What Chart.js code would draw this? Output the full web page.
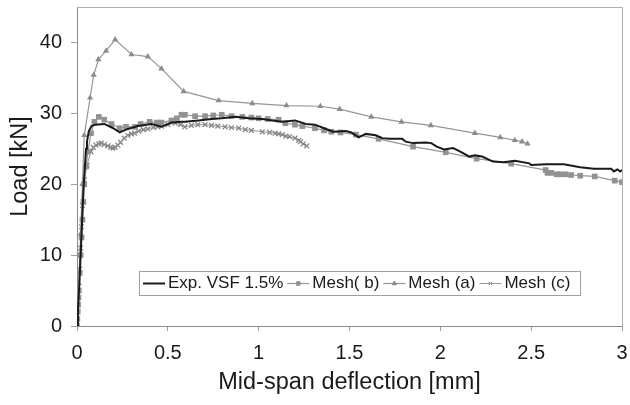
<!DOCTYPE html>
<html>
<head>
<meta charset="utf-8">
<script src="https://cdn.jsdelivr.net/npm/chart.js@4/dist/chart.umd.min.js"></script>
<style>
  html, body { margin: 0; padding: 0; background: #fff; }
  #chart1 { display: block; }
</style>
</head>
<body>
<canvas id="chart1" width="630" height="405"></canvas>
<script>
// data ---------------------------------------------------------------------
const seriesLabels = ['Exp. VSF 1.5%', 'Mesh( b)', 'Mesh (a)', 'Mesh (c)'];

const expX = [0, 0.005, 0.01, 0.015, 0.02, 0.025, 0.03, 0.035, 0.042, 0.05, 0.055, 0.065, 0.08, 0.1, 0.15, 0.2, 0.235, 0.28, 0.335, 0.41, 0.465, 0.52, 0.575, 0.594, 0.668, 0.742, 0.797, 0.87, 0.945, 1.02, 1.074, 1.13, 1.2, 1.26, 1.31, 1.36, 1.41, 1.48, 1.51, 1.55, 1.59, 1.645, 1.68, 1.72, 1.79, 1.81, 1.85, 1.92, 1.95, 1.98, 2.02, 2.07, 2.11, 2.16, 2.19, 2.23, 2.29, 2.35, 2.41, 2.49, 2.5, 2.585, 2.68, 2.77, 2.845, 2.94, 2.955, 2.975, 2.99, 3.0];
const expY = [0, 2, 4.5, 7, 10, 13, 16, 19, 22, 25, 26, 27.5, 28.2, 28.4, 28.5, 27.9, 27.3, 27.8, 28.2, 28.5, 28.1, 28.7, 28.8, 28.8, 29.0, 29.2, 29.3, 29.5, 29.3, 29.2, 29.0, 28.8, 29.0, 28.5, 28.4, 27.9, 27.4, 27.5, 27.3, 26.6, 27.1, 26.9, 26.5, 26.4, 26.4, 26.0, 25.8, 25.9, 25.8, 25.3, 24.9, 25.1, 24.6, 23.9, 24.1, 23.9, 23.2, 23.1, 23.3, 22.95, 22.7, 22.8, 22.8, 22.4, 22.2, 22.2, 21.8, 22.1, 21.8, 22.0];

const meshBX = [0, 0.002, 0.004, 0.006, 0.008, 0.01, 0.015, 0.02, 0.025, 0.03, 0.035, 0.04, 0.05, 0.06, 0.077, 0.096, 0.12, 0.15, 0.19, 0.235, 0.27, 0.32, 0.35, 0.4, 0.44, 0.465, 0.52, 0.55, 0.575, 0.594, 0.65, 0.705, 0.75, 0.797, 0.85, 0.91, 0.96, 1.0, 1.05, 1.11, 1.147, 1.2, 1.24, 1.31, 1.36, 1.4, 1.45, 1.535, 1.66, 1.85, 2.03, 2.2, 2.39, 2.58, 2.59, 2.61, 2.64, 2.66, 2.69, 2.72, 2.77, 2.85, 2.96, 3.0];
const meshBY = [0, 1, 2, 3, 4, 5, 7.5, 10, 12.5, 15, 17.5, 20, 22.5, 24.6, 27.2, 28.8, 29.5, 29.1, 28.5, 27.9, 28.1, 28.1, 28.5, 28.8, 28.7, 28.7, 29.0, 29.3, 29.8, 29.8, 29.6, 29.6, 29.7, 29.8, 29.6, 29.5, 29.4, 29.3, 29.2, 29.1, 28.6, 28.4, 28.2, 27.9, 27.6, 27.4, 27.3, 27.0, 26.4, 25.3, 24.5, 23.6, 22.9, 22.0, 21.6, 21.6, 21.4, 21.4, 21.4, 21.3, 21.2, 21.1, 20.5, 20.3];

const meshAX = [0, 0.01, 0.02, 0.03, 0.04, 0.072, 0.092, 0.118, 0.16, 0.21, 0.3, 0.39, 0.465, 0.587, 0.78, 0.965, 1.153, 1.34, 1.446, 1.62, 1.786, 1.948, 2.19, 2.33, 2.41, 2.45, 2.48];
const meshAY = [0, 6, 13, 20, 26.9, 32.2, 35.4, 37.6, 38.8, 40.4, 38.3, 38.0, 36.3, 33.1, 31.8, 31.4, 31.1, 31.0, 30.6, 29.5, 28.8, 28.3, 27.2, 26.6, 26.2, 26.0, 25.7];

const meshCX = [0, 0.005, 0.01, 0.015, 0.02, 0.025, 0.03, 0.04, 0.055, 0.077, 0.09, 0.105, 0.12, 0.133, 0.15, 0.17, 0.185, 0.198, 0.21, 0.225, 0.24, 0.26, 0.28, 0.3, 0.317, 0.34, 0.365, 0.39, 0.42, 0.445, 0.465, 0.5, 0.54, 0.57, 0.594, 0.63, 0.665, 0.705, 0.74, 0.775, 0.815, 0.85, 0.89, 0.926, 0.96, 1.02, 1.06, 1.09, 1.11, 1.13, 1.15, 1.17, 1.2, 1.22, 1.23, 1.245, 1.265];
const meshCY = [0, 2.5, 5, 8, 11, 14, 17, 20.6, 22.7, 24.6, 25.2, 25.5, 25.7, 25.8, 25.6, 25.4, 25.2, 25.1, 25.2, 25.5, 25.9, 26.5, 26.9, 27.1, 27.2, 27.5, 27.7, 27.8, 28.0, 28.1, 28.2, 28.4, 28.6, 28.4, 28.1, 28.3, 28.4, 28.4, 28.3, 28.2, 28.1, 28.0, 27.9, 27.7, 27.6, 27.4, 27.3, 27.2, 27.1, 27.0, 26.8, 26.7, 26.5, 26.2, 26.0, 25.7, 25.4];

const xTickStep = 0.5;
const yTickStep = 10;
const yTickLast = 40;

function pairs(xs, ys) {
    return xs.map((x, i) => ({x: x, y: ys[i]}));
}

const FONT = '"Liberation Sans", Arial, sans-serif';

// legend drawn inside the plot, like the original
const legendBox = {
    id: 'legendBox',
    afterDraw(chart) {
        const ctx = chart.ctx;
        ctx.save();
        ctx.fillStyle = '#fff';
        ctx.strokeStyle = '#a0a0a0';
        ctx.lineWidth = 1;
        ctx.fillRect(139.5, 271.5, 441, 24);
        ctx.strokeRect(139.5, 271.5, 441, 24);
        ctx.font = '17px ' + FONT;
        ctx.textBaseline = 'middle';
        let x = 143;
        const y = 283.5;
        chart.data.datasets.forEach(ds => {
            ctx.strokeStyle = ds.borderColor;
            ctx.lineWidth = ds.borderWidth;
            ctx.beginPath();
            ctx.moveTo(x, y);
            ctx.lineTo(x + 22, y);
            ctx.stroke();
            if (ds.pointRadius > 0 && Chart.helpers && Chart.helpers.drawPoint) {
                ctx.fillStyle = ds.pointBackgroundColor;
                ctx.strokeStyle = ds.pointBorderColor;
                ctx.lineWidth = 1;
                Chart.helpers.drawPoint(ctx, {pointStyle: ds.pointStyle, rotation: 0, radius: 2.5, borderWidth: 1}, x + 11, y);
            }
            x += 25;
            ctx.fillStyle = '#1a1a1a';
            ctx.fillText(ds.label, x, y);
            x += ctx.measureText(ds.label).width + 4;
        });
        ctx.restore();
    }
};

// light frame on top and right of the plot
const plotFrame = {
    id: 'plotFrame',
    beforeDatasetsDraw(chart) {
        const a = chart.chartArea;
        const ctx = chart.ctx;
        ctx.save();
        ctx.strokeStyle = '#b0b0b0';
        ctx.lineWidth = 1;
        ctx.beginPath();
        ctx.moveTo(Math.round(a.left) + 0.5, Math.round(a.top) + 0.5);
        ctx.lineTo(Math.round(a.right) + 0.5, Math.round(a.top) + 0.5);
        ctx.lineTo(Math.round(a.right) + 0.5, Math.round(a.bottom) + 0.5);
        ctx.stroke();
        ctx.restore();
    }
};

const ctx1 = document.getElementById('chart1').getContext('2d');
const chart1 = new Chart(ctx1, {
    type: 'scatter',
    data: {
        datasets: [{
            label: seriesLabels[0],
            data: pairs(expX, expY),
            showLine: true,
            borderColor: '#1a1a1a',
            borderWidth: 2,
            pointRadius: 0,
            pointBackgroundColor: '#1a1a1a',
            pointBorderColor: '#1a1a1a',
            tension: 0
        },
        {
            label: seriesLabels[1],
            data: pairs(meshBX, meshBY),
            showLine: true,
            borderColor: '#969696',
            borderWidth: 1.2,
            pointStyle: 'rect',
            pointRadius: 4,
            pointBackgroundColor: '#929292',
            pointBorderColor: '#929292',
            pointBorderWidth: 0
        },
        {
            label: seriesLabels[2],
            data: pairs(meshAX, meshAY),
            showLine: true,
            borderColor: '#969696',
            borderWidth: 1.2,
            pointStyle: 'triangle',
            pointRadius: 3.6,
            pointBackgroundColor: '#8c8c8c',
            pointBorderColor: '#8c8c8c',
            pointBorderWidth: 0
        },
        {
            label: seriesLabels[3],
            data: pairs(meshCX, meshCY),
            showLine: true,
            borderColor: '#969696',
            borderWidth: 1,
            pointStyle: 'crossRot',
            pointRadius: 3.4,
            pointBackgroundColor: '#888',
            pointBorderColor: '#888',
            pointBorderWidth: 1.3
        }]
    },
    options: {
        responsive: false,
        animation: false,
        layout: {
            padding: {left: 6, right: 8, top: 7, bottom: 8}
        },
        plugins: {
            legend: {display: false},
            tooltip: {enabled: false}
        },
        scales: {
            x: {
                type: 'linear',
                min: 0,
                max: 3,
                afterFit: s => { s.height = 71; s.paddingLeft = 0; s.paddingRight = 0; },
                ticks: {
                    stepSize: xTickStep,
                    color: '#1a1a1a',
                    padding: 10,
                    maxRotation: 0,
                    font: {family: FONT, size: 20},
                    callback: v => String(+v.toFixed(1))
                },
                grid: {
                    drawOnChartArea: false,
                    tickLength: 5,
                    color: '#a0a0a0'
                },
                border: {color: '#8c8c8c'},
                title: {
                    display: true,
                    text: 'Mid-span deflection [mm]',
                    color: '#1a1a1a',
                    padding: 0,
                    font: {family: FONT, size: 23.5}
                }
            },
            y: {
                min: 0,
                max: 45,
                afterFit: s => { s.width = 71; s.paddingTop = 0; s.paddingBottom = 0; },
                afterBuildTicks: s => { s.ticks = s.ticks.filter(t => t.value <= yTickLast); },
                ticks: {
                    stepSize: yTickStep,
                    color: '#1a1a1a',
                    padding: 9,
                    font: {family: FONT, size: 20}
                },
                grid: {
                    drawOnChartArea: false,
                    tickLength: 6,
                    color: '#a0a0a0'
                },
                border: {color: '#8c8c8c'},
                title: {
                    display: true,
                    text: 'Load [kN]',
                    color: '#1a1a1a',
                    padding: 0,
                    font: {family: FONT, size: 23.5}
                }
            }
        }
    },
    plugins: [plotFrame, legendBox]
});
</script>
</body>
</html>
